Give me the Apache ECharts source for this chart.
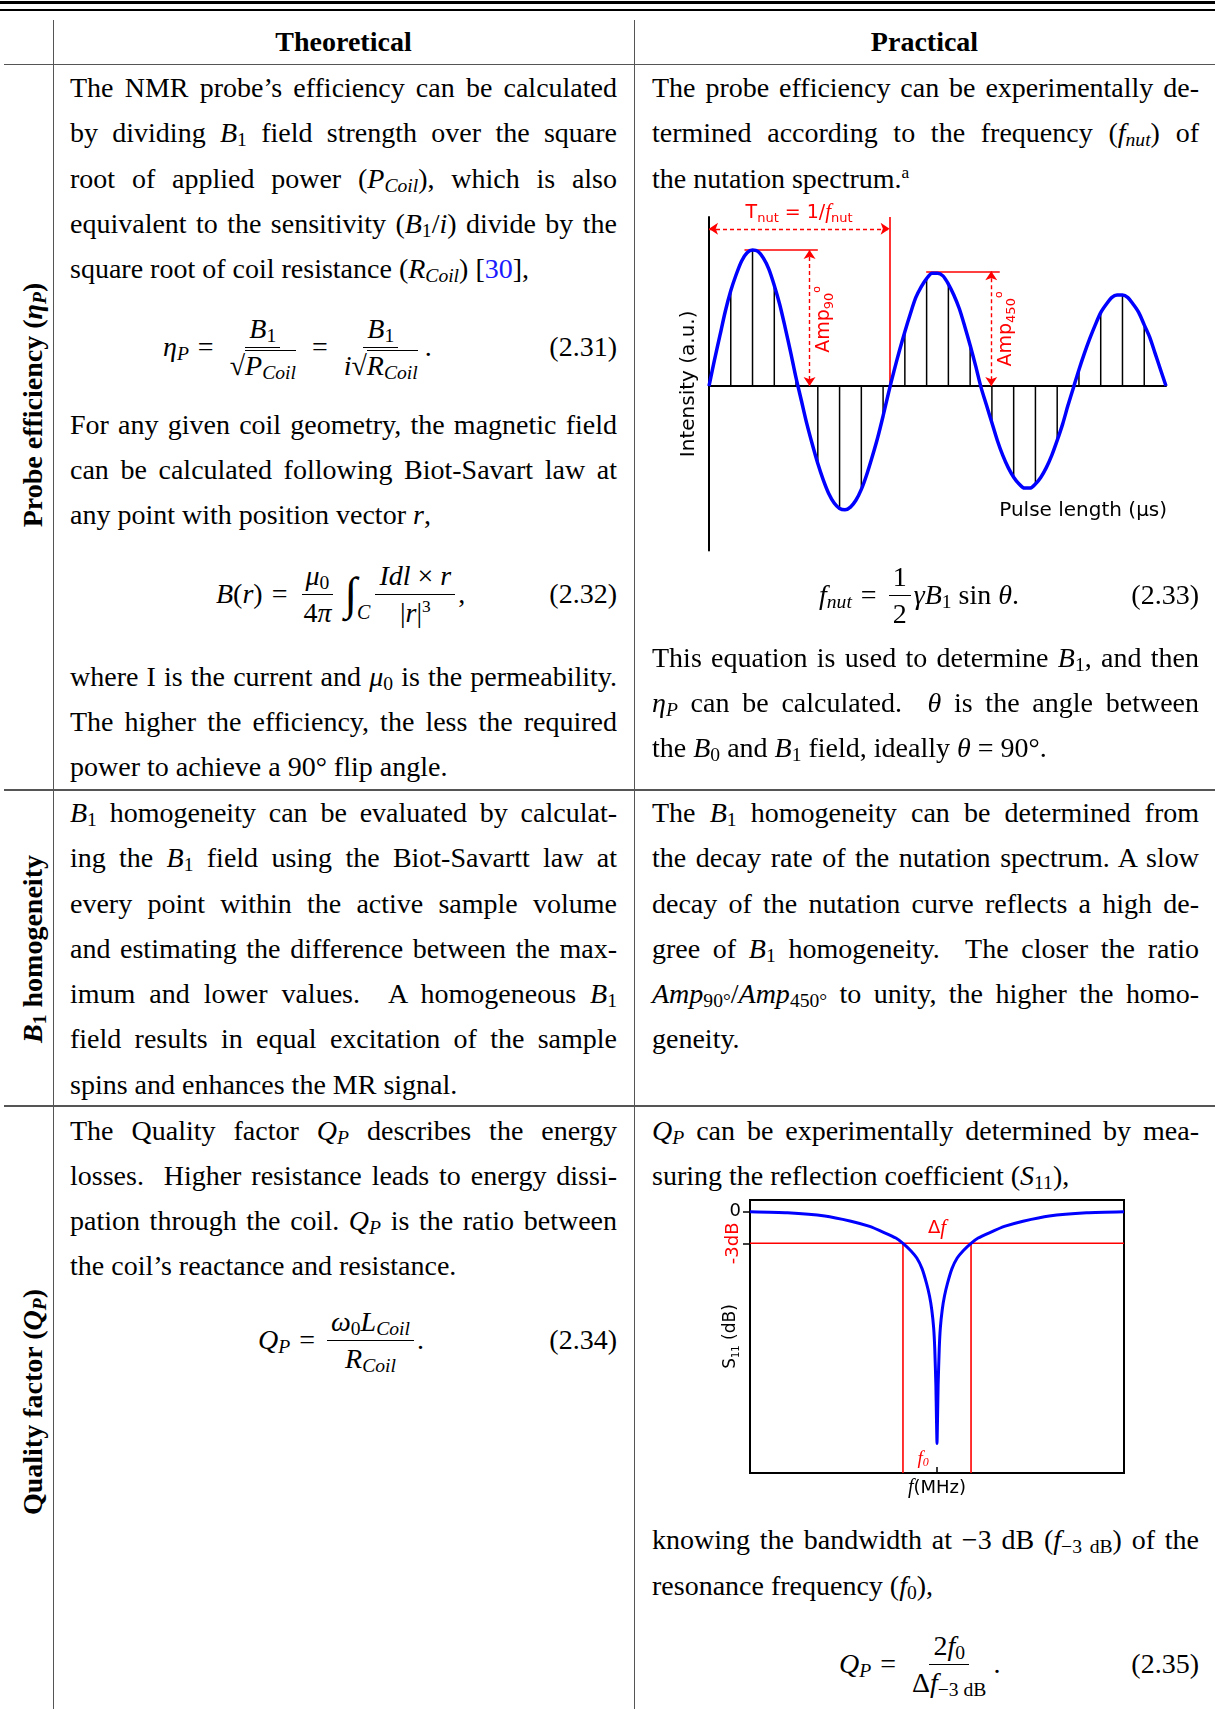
<!DOCTYPE html>
<html>
<head>
<meta charset="utf-8">
<title>Probe characterisation</title>
<script src="https://cdn.jsdelivr.net/npm/echarts@6.0.0/dist/echarts.min.js"></script>
<style>
  html, body { margin:0; padding:0; background:#fff; }
  #page { position:relative; width:1215px; height:1709px; overflow:hidden; background:#fff;
          font-family:'Liberation Serif','Times New Roman',serif; font-size:28px; color:#000; }
  .rule { position:absolute; background:#000; }
  .hl { position:absolute; left:4px; width:1211px; height:1.5px; background:#555; }
  .vl { position:absolute; top:20px; bottom:0; width:1.5px; background:#555; }
  .ln { position:absolute; height:46px; line-height:46px; width:547px; }
  .j { text-align:justify; text-align-last:justify; }
  .L { left:70px; } .R { left:652px; }
  sub { font-size:0.7em; vertical-align:-0.22em; line-height:0; }
  sup { font-size:0.62em; vertical-align:0.55em; line-height:0; }
  .hdr { position:absolute; top:20px; height:44px; line-height:44px; font-weight:bold; text-align:center; }
  .rot { position:absolute; white-space:nowrap; font-weight:bold; line-height:1; transform:translate(-50%,-50%) rotate(-90deg); }
  .eq { position:absolute; height:90px; display:flex; align-items:center; white-space:nowrap; line-height:46px; }
  .op { margin:0 9px; }
  .frac { display:inline-flex; flex-direction:column; align-items:center; margin:0 3px; }
  .frac > span { line-height:36px; padding:0 4px; white-space:nowrap; }
  .frac > .nu { border-bottom:1.3px solid #000; }
  .ov { border-top:1.3px solid #000; line-height:30px; display:inline-block; }
  .int { font-size:46px; line-height:46px; margin:0 2px 0 6px; }
  .int sub { font-size:20px; vertical-align:-0.5em; }
  .eqn { position:absolute; height:46px; line-height:46px; width:547px; text-align:right; }
  .chart { position:absolute; }
  .blue { color:#1a1aff; }
</style>
</head>
<body>
<div id="page">
  <!-- table rules -->
  <div class="rule" style="left:0;top:1px;width:1215px;height:3px"></div>
  <div class="rule" style="left:0;top:9px;width:1215px;height:1.5px"></div>
  <div class="vl" style="left:52.5px"></div>
  <div class="vl" style="left:633.5px"></div>
  <div class="hl" style="top:63.5px"></div>
  <div class="hl" style="top:789px"></div>
  <div class="hl" style="top:1105px"></div>

  <!-- headers -->
  <div class="hdr" style="left:53px;width:581px">Theoretical</div>
  <div class="hdr" style="left:634px;width:581px">Practical</div>

  <!-- row labels -->
  <div class="rot" style="left:33px;top:405px">Probe efficiency (<i>η<sub>P</sub></i>)</div>
  <div class="rot" style="left:33px;top:949px"><i>B</i><sub>1</sub> homogeneity</div>
  <div class="rot" style="left:33px;top:1402px">Quality factor (<i>Q<sub>P</sub></i>)</div>

  <!-- left column, row 1 -->
  <div class="ln L j" style="top:65px">The NMR probe’s efficiency can be calculated</div>
  <div class="ln L j" style="top:110px">by dividing <i>B</i><sub>1</sub> field strength over the square</div>
  <div class="ln L j" style="top:156px">root of applied power (<i>P<sub>Coil</sub></i>), which is also</div>
  <div class="ln L j" style="top:201px">equivalent to the sensitivity (<i>B</i><sub>1</sub>/<i>i</i>) divide by the</div>
  <div class="ln L" style="top:246px">square root of coil resistance (<i>R<sub>Coil</sub></i>) [<span class="blue">30</span>],</div>

  <div class="eq" style="left:163px;top:302px">
    <span><i>η<sub>P</sub></i></span><span class="op">=</span>
    <span class="frac"><span class="nu"><i>B</i><sub>1</sub></span><span class="de">√<span class="ov"><i>P<sub>Coil</sub></i></span></span></span>
    <span class="op">=</span>
    <span class="frac"><span class="nu"><i>B</i><sub>1</sub></span><span class="de"><i>i</i>√<span class="ov"><i>R<sub>Coil</sub></i></span></span></span><span>.</span>
  </div>
  <div class="eqn L" style="top:324px">(2.31)</div>

  <div class="ln L j" style="top:402px">For any given coil geometry, the magnetic field</div>
  <div class="ln L j" style="top:447px">can be calculated following Biot-Savart law at</div>
  <div class="ln L" style="top:492px">any point with position vector <i>r</i>,</div>

  <div class="eq" style="left:216px;top:549px">
    <span><i>B</i>(<i>r</i>)</span><span class="op">=</span>
    <span class="frac"><span class="nu"><i>μ</i><sub>0</sub></span><span class="de">4<i>π</i></span></span>
    <span class="int">∫<sub><i>C</i></sub></span>
    <span class="frac"><span class="nu"><i>Idl</i> × <i>r</i></span><span class="de">|<i>r</i>|<sup>3</sup></span></span><span>,</span>
  </div>
  <div class="eqn L" style="top:571px">(2.32)</div>

  <div class="ln L j" style="top:654px">where I is the current and <i>μ</i><sub>0</sub> is the permeability.</div>
  <div class="ln L j" style="top:699px">The higher the efficiency, the less the required</div>
  <div class="ln L" style="top:744px">power to achieve a 90° flip angle.</div>

  <!-- left column, row 2 -->
  <div class="ln L j" style="top:790px"><i>B</i><sub>1</sub> homogeneity can be evaluated by calculat-</div>
  <div class="ln L j" style="top:835px">ing the <i>B</i><sub>1</sub> field using the Biot-Savartt law at</div>
  <div class="ln L j" style="top:881px">every point within the active sample volume</div>
  <div class="ln L j" style="top:926px">and estimating the difference between the max-</div>
  <div class="ln L j" style="top:971px">imum and lower values. &nbsp;A homogeneous <i>B</i><sub>1</sub></div>
  <div class="ln L j" style="top:1016px">field results in equal excitation of the sample</div>
  <div class="ln L" style="top:1062px">spins and enhances the MR signal.</div>

  <!-- left column, row 3 -->
  <div class="ln L j" style="top:1108px">The Quality factor <i>Q<sub>P</sub></i> describes the energy</div>
  <div class="ln L j" style="top:1153px">losses. &nbsp;Higher resistance leads to energy dissi-</div>
  <div class="ln L j" style="top:1198px">pation through the coil. <i>Q<sub>P</sub></i> is the ratio between</div>
  <div class="ln L" style="top:1243px">the coil’s reactance and resistance.</div>

  <div class="eq" style="left:258px;top:1295px">
    <span><i>Q<sub>P</sub></i></span><span class="op">=</span>
    <span class="frac"><span class="nu"><i>ω</i><sub>0</sub><i>L<sub>Coil</sub></i></span><span class="de"><i>R<sub>Coil</sub></i></span></span><span>.</span>
  </div>
  <div class="eqn L" style="top:1317px">(2.34)</div>

  <!-- right column, row 1 -->
  <div class="ln R j" style="top:65px">The probe efficiency can be experimentally de-</div>
  <div class="ln R j" style="top:110px">termined according to the frequency (<i>f<sub>nut</sub></i>) of</div>
  <div class="ln R" style="top:156px">the nutation spectrum.<sup>a</sup></div>

  <div id="nut" class="chart" style="left:640px;top:190px;width:575px;height:380px"></div>

  <div class="eq" style="left:819px;top:550px">
    <span><i>f<sub>nut</sub></i></span><span class="op">=</span>
    <span class="frac"><span class="nu">1</span><span class="de">2</span></span>
    <span><i>γB</i><sub>1</sub> sin <i>θ</i>.</span>
  </div>
  <div class="eqn R" style="top:572px">(2.33)</div>

  <div class="ln R j" style="top:635px">This equation is used to determine <i>B</i><sub>1</sub>, and then</div>
  <div class="ln R j" style="top:680px"><i>η<sub>P</sub></i> can be calculated. &nbsp;<i>θ</i> is the angle between</div>
  <div class="ln R" style="top:725px">the <i>B</i><sub>0</sub> and <i>B</i><sub>1</sub> field, ideally <i>θ</i> = 90°.</div>

  <!-- right column, row 2 -->
  <div class="ln R j" style="top:790px">The <i>B</i><sub>1</sub> homogeneity can be determined from</div>
  <div class="ln R j" style="top:835px">the decay rate of the nutation spectrum. A slow</div>
  <div class="ln R j" style="top:881px">decay of the nutation curve reflects a high de-</div>
  <div class="ln R j" style="top:926px">gree of <i>B</i><sub>1</sub> homogeneity. &nbsp;The closer the ratio</div>
  <div class="ln R j" style="top:971px"><i>Amp</i><sub>90°</sub>/<i>Amp</i><sub>450°</sub> to unity, the higher the homo-</div>
  <div class="ln R" style="top:1016px">geneity.</div>

  <!-- right column, row 3 -->
  <div class="ln R j" style="top:1108px"><i>Q<sub>P</sub></i> can be experimentally determined by mea-</div>
  <div class="ln R" style="top:1153px">suring the reflection coefficient (<i>S</i><sub>11</sub>),</div>

  <div id="s11" class="chart" style="left:640px;top:1185px;width:575px;height:325px"></div>

  <div class="ln R j" style="top:1517px">knowing the bandwidth at −3 dB (<i>f</i><sub>−3 dB</sub>) of the</div>
  <div class="ln R" style="top:1563px">resonance frequency (<i>f</i><sub>0</sub>),</div>

  <div class="eq" style="left:839px;top:1619px">
    <span><i>Q<sub>P</sub></i></span><span class="op">=</span>
    <span class="frac"><span class="nu">2<i>f</i><sub>0</sub></span><span class="de">Δ<i>f</i><sub>−3 dB</sub></span></span><span>.</span>
  </div>
  <div class="eqn R" style="top:1641px">(2.35)</div>
</div>

<script>
// ---------------- Nutation spectrum ----------------
// pulse length in units of the sampling step, normalised intensity
const nutT = [0,0.25,0.5,0.75,1,1.25,1.5,1.75,2,2.25,2.5,2.75,3,3.25,3.5,3.75,4,4.25,4.5,4.75,5,5.25,5.5,5.75,6,6.25,6.5,6.75,7,7.25,7.5,7.75,8,8.25,8.5,8.75,9,9.25,9.5,9.75,10,10.25,10.5,10.75,11,11.25,11.5,11.75,12,12.25,12.5,12.75,13,13.25,13.5,13.75,14,14.25,14.5,14.75,15,15.25,15.5,15.75,16,16.25,16.5,16.75,17,17.25,17.5,17.75,18,18.25,18.5,18.75,19,19.25,19.5,19.75,20,20.25,20.5,20.75,21];
const nutAmp = [0,0.19,0.37,0.55,0.70,0.82,0.92,0.98,1.00,0.99,0.94,0.86,0.74,0.60,0.43,0.25,0.06,
  -0.11,-0.28,-0.43,-0.57,-0.69,-0.79,-0.86,-0.90,-0.91,-0.89,-0.84,-0.76,-0.65,-0.52,-0.38,-0.22,-0.05,
  0.11,0.26,0.40,0.53,0.65,0.73,0.79,0.83,0.83,0.81,0.75,0.67,0.57,0.44,0.30,0.15,
  -0.01,-0.14,-0.27,-0.40,-0.51,-0.60,-0.67,-0.72,-0.75,-0.75,-0.72,-0.67,-0.60,-0.51,-0.40,-0.28,-0.14,-0.01,
  0.12,0.24,0.35,0.45,0.54,0.60,0.65,0.67,0.67,0.65,0.60,0.54,0.45,0.36,0.24,0.12,0];
const stemT = [1,2,3,4,5,6,7,8,9,10,11,12,13,14,15,16,17,18,19,20];
const stemAmp = [0.70,1.00,0.74,0.06,-0.57,-0.90,-0.76,-0.22,0.40,0.79,0.75,0.30,-0.27,-0.67,-0.72,-0.40,0.12,0.54,0.67,0.45];
const nutPeriodEnd = 8.3;          // T_nut marker
const amp90Level = 1.0;            // first maximum
const amp450Level = 0.844;         // second maximum
const amp90Span = [1.63, 5.0];     // horizontal marker extent
const amp450Span = [9.98, 13.36];
const amp90ArrowT = 4.62;
const amp450ArrowT = 12.97;
const periodArrowLevel = 1.156;
const nutRange = [-1.21, 1.243];

// ---------------- S11 reflection curve ----------------
const s11Freq = [0,10,20,27,32,36,39,40.9,43,44.6,46,47.2,48,48.6,49.1,49.4,49.7,49.85,50,50.15,50.3,50.6,50.9,51.4,52,52.8,54,55.4,57,59.1,61,64,68,73,80,90,100];
const s11dB   = [0,-0.1,-0.4,-0.9,-1.4,-2.0,-2.5,-3.0,-3.7,-4.4,-5.4,-6.8,-8.0,-9.3,-11,-13,-16.5,-19.5,-22.0,-19.5,-16.5,-13,-11,-9.3,-8.0,-6.8,-5.4,-4.4,-3.7,-3.0,-2.5,-2.0,-1.4,-0.9,-0.4,-0.1,0];
const s11HalfPower = -3;
const s11BandEdges = [40.9, 59.1];
const s11Centre = 50;
const s11Range = [-24.8, 1.11];
const s11YLabels = [0];
const s11YTicks = [0, -3];

const RED = '#ff0000', BLUE = '#0000ff';
const SANS = "'DejaVu Sans', Verdana, sans-serif";
const SERIF = "'Liberation Serif', 'Times New Roman', serif";

// ---------------- Chart 1 ----------------
const nut = echarts.init(document.getElementById('nut'), null, {renderer:'canvas'});
nut.setOption({
  animation:false,
  grid:{left:69, top:27, width:457, height:333.6},
  xAxis:{type:'value', min:0, max:21, axisLine:{show:true, onZero:true, lineStyle:{color:'#000', width:2}},
         axisTick:{show:false}, axisLabel:{show:false}, splitLine:{show:false}},
  yAxis:{type:'value', min:nutRange[0], max:nutRange[1],
         axisLine:{show:true, lineStyle:{color:'#000', width:2}},
         axisTick:{show:false}, axisLabel:{show:false}, splitLine:{show:false},
         name:'Intensity (a.u.)', nameLocation:'middle', nameRotate:90, nameGap:10, nameMoveOverlap:false,
         nameTextStyle:{fontFamily:SANS, fontSize:20, color:'#000'}},
  series:[
    {type:'bar', barWidth:1.5, itemStyle:{color:'#000'}, silent:true,
     data: stemT.map((t,i)=>[t, stemAmp[i]])},
    {type:'line', smooth:0.3, showSymbol:false, symbol:'none', silent:true,
     lineStyle:{color:BLUE, width:3.5}, data: nutT.map((t,i)=>[t, nutAmp[i]]), z:5,
     markLine:{silent:true, symbol:['none','none'], label:{show:false}, animation:false,
       lineStyle:{color:RED, width:1.6, type:'solid'},
       data:[
         [{coord:[nutPeriodEnd, 0]}, {coord:[nutPeriodEnd, nutRange[1]]}],
         [{coord:[amp90Span[0], amp90Level]}, {coord:[amp90Span[1], amp90Level]}],
         [{coord:[amp450Span[0], amp450Level]}, {coord:[amp450Span[1], amp450Level]}]
       ]}},
    {type:'line', data:[], silent:true,
     markLine:{silent:true, symbol:['arrow','arrow'], symbolSize:9, label:{show:false}, animation:false,
       lineStyle:{color:RED, width:1.4, type:[4,3]},
       data:[
         [{coord:[0, periodArrowLevel]}, {coord:[nutPeriodEnd, periodArrowLevel]}],
         [{coord:[amp90ArrowT, amp90Level]}, {coord:[amp90ArrowT, 0]}],
         [{coord:[amp450ArrowT, amp450Level]}, {coord:[amp450ArrowT, 0]}]
       ]}}
  ]
});

function px(chart, pt){ return chart.convertToPixel({gridIndex:0}, pt); }
const redRich = {
  a:{fill:RED, fontFamily:SANS, fontSize:19, lineHeight:24},
  s:{fill:RED, fontFamily:SANS, fontSize:13, lineHeight:13, verticalAlign:'bottom'},
  u:{fill:RED, fontFamily:SANS, fontSize:11, lineHeight:11, verticalAlign:'top'},
  f:{fill:RED, fontFamily:SERIF, fontStyle:'italic', fontSize:21, lineHeight:24}
};
const pT = px(nut, [4.14, 1.275]);
const pA90 = px(nut, [5.27, 0.49]);
const pA450 = px(nut, [13.65, 0.42]);
const pPulse = px(nut, [21.05, -0.92]);
nut.setOption({graphic:[
  {type:'text', x:pT[0], y:pT[1], silent:true,
   style:{text:'{a|T}{s|nut}{a| = 1/}{f|f}{s|nut}', rich:redRich, align:'center', verticalAlign:'middle'}},
  {type:'text', x:pA90[0], y:pA90[1], rotation:Math.PI/2, silent:true,
   style:{text:'{a|Amp}{s|90}{u|o}', rich:redRich, align:'center', verticalAlign:'middle'}},
  {type:'text', x:pA450[0], y:pA450[1], rotation:Math.PI/2, silent:true,
   style:{text:'{a|Amp}{s|450}{u|o}', rich:redRich, align:'center', verticalAlign:'middle'}},
  {type:'text', x:pPulse[0], y:pPulse[1], silent:true,
   style:{text:'Pulse length (µs)', fill:'#000', font:"20px 'DejaVu Sans'", align:'right', verticalAlign:'middle'}}
]});

// ---------------- Chart 2 ----------------
const s11 = echarts.init(document.getElementById('s11'), null, {renderer:'canvas'});
s11.setOption({
  animation:false,
  grid:{left:110, top:15, width:374, height:273, show:true, borderColor:'#000', borderWidth:2, backgroundColor:'rgba(0,0,0,0)'},
  xAxis:{type:'value', min:0, max:100, axisLine:{show:false, onZero:false}, splitLine:{show:false},
         axisLabel:{show:false},
         axisTick:{show:true, inside:true, length:6, customValues:[s11Centre], lineStyle:{color:'#000', width:1.5}},
         name:'{f|f}{t|(MHz)}', nameLocation:'middle', nameGap:5, nameMoveOverlap:false,
         nameTextStyle:{rich:{f:{fontFamily:SERIF, fontStyle:'italic', fontSize:20, color:'#000'},
                              t:{fontFamily:SANS, fontSize:18, color:'#000'}}}},
  yAxis:{type:'value', min:s11Range[0], max:s11Range[1], axisLine:{show:false, onZero:false}, splitLine:{show:false},
         axisTick:{show:true, length:7, customValues:s11YTicks, lineStyle:{color:'#000', width:1.5}},
         axisLabel:{show:true, customValues:s11YLabels, color:'#000', fontFamily:SANS, fontSize:18, margin:9},
         name:'{s|S}{b|11}{s| (dB)}', nameLocation:'middle', nameRotate:90, nameGap:9, nameMoveOverlap:false,
         nameTextStyle:{rich:{s:{fontFamily:SANS, fontSize:17, color:'#000', lineHeight:20},
                              b:{fontFamily:SANS, fontSize:10, color:'#000', lineHeight:11, verticalAlign:'bottom'}}}},
  series:[
    {type:'line', silent:true, symbol:'none', lineStyle:{color:RED, width:1.6},
     data:[[0, s11HalfPower],[100, s11HalfPower]]},
    {type:'line', silent:true, symbol:'none', lineStyle:{color:RED, width:1.6},
     data:[[s11BandEdges[0], s11HalfPower],[s11BandEdges[0], s11Range[0]]]},
    {type:'line', silent:true, symbol:'none', lineStyle:{color:RED, width:1.6},
     data:[[s11BandEdges[1], s11HalfPower],[s11BandEdges[1], s11Range[0]]]},
    {type:'line', silent:true, symbol:'none', smooth:0.2, z:5, lineStyle:{color:BLUE, width:3},
     data: s11Freq.map((f,i)=>[f, s11dB[i]])}
  ]
});
const p3 = px(s11, [0, s11HalfPower]);
const pDf = px(s11, [s11Centre, -1.58]);
const pF0 = px(s11, [46.3, -23.5]);
s11.setOption({graphic:[
  {type:'text', x:p3[0]-17, y:p3[1], rotation:Math.PI/2, silent:true,
   style:{text:'-3dB', fill:RED, font:"18px 'DejaVu Sans'", align:'center', verticalAlign:'middle'}},
  {type:'text', x:pDf[0], y:pDf[1], silent:true,
   style:{text:'{d|Δ}{f|f}', rich:{d:{fill:RED, fontFamily:SANS, fontSize:18}, f:{fill:RED, fontFamily:SERIF, fontStyle:'italic', fontSize:21}},
          align:'center', verticalAlign:'middle'}},
  {type:'text', x:pF0[0], y:pF0[1], silent:true,
   style:{text:'{f|f}{s|0}', rich:{f:{fill:RED, fontFamily:SERIF, fontStyle:'italic', fontSize:19, lineHeight:20},
                                 s:{fill:RED, fontFamily:SERIF, fontStyle:'italic', fontSize:12, lineHeight:12, verticalAlign:'bottom'}},
          align:'center', verticalAlign:'middle'}}
]});
</script>
</body>
</html>
